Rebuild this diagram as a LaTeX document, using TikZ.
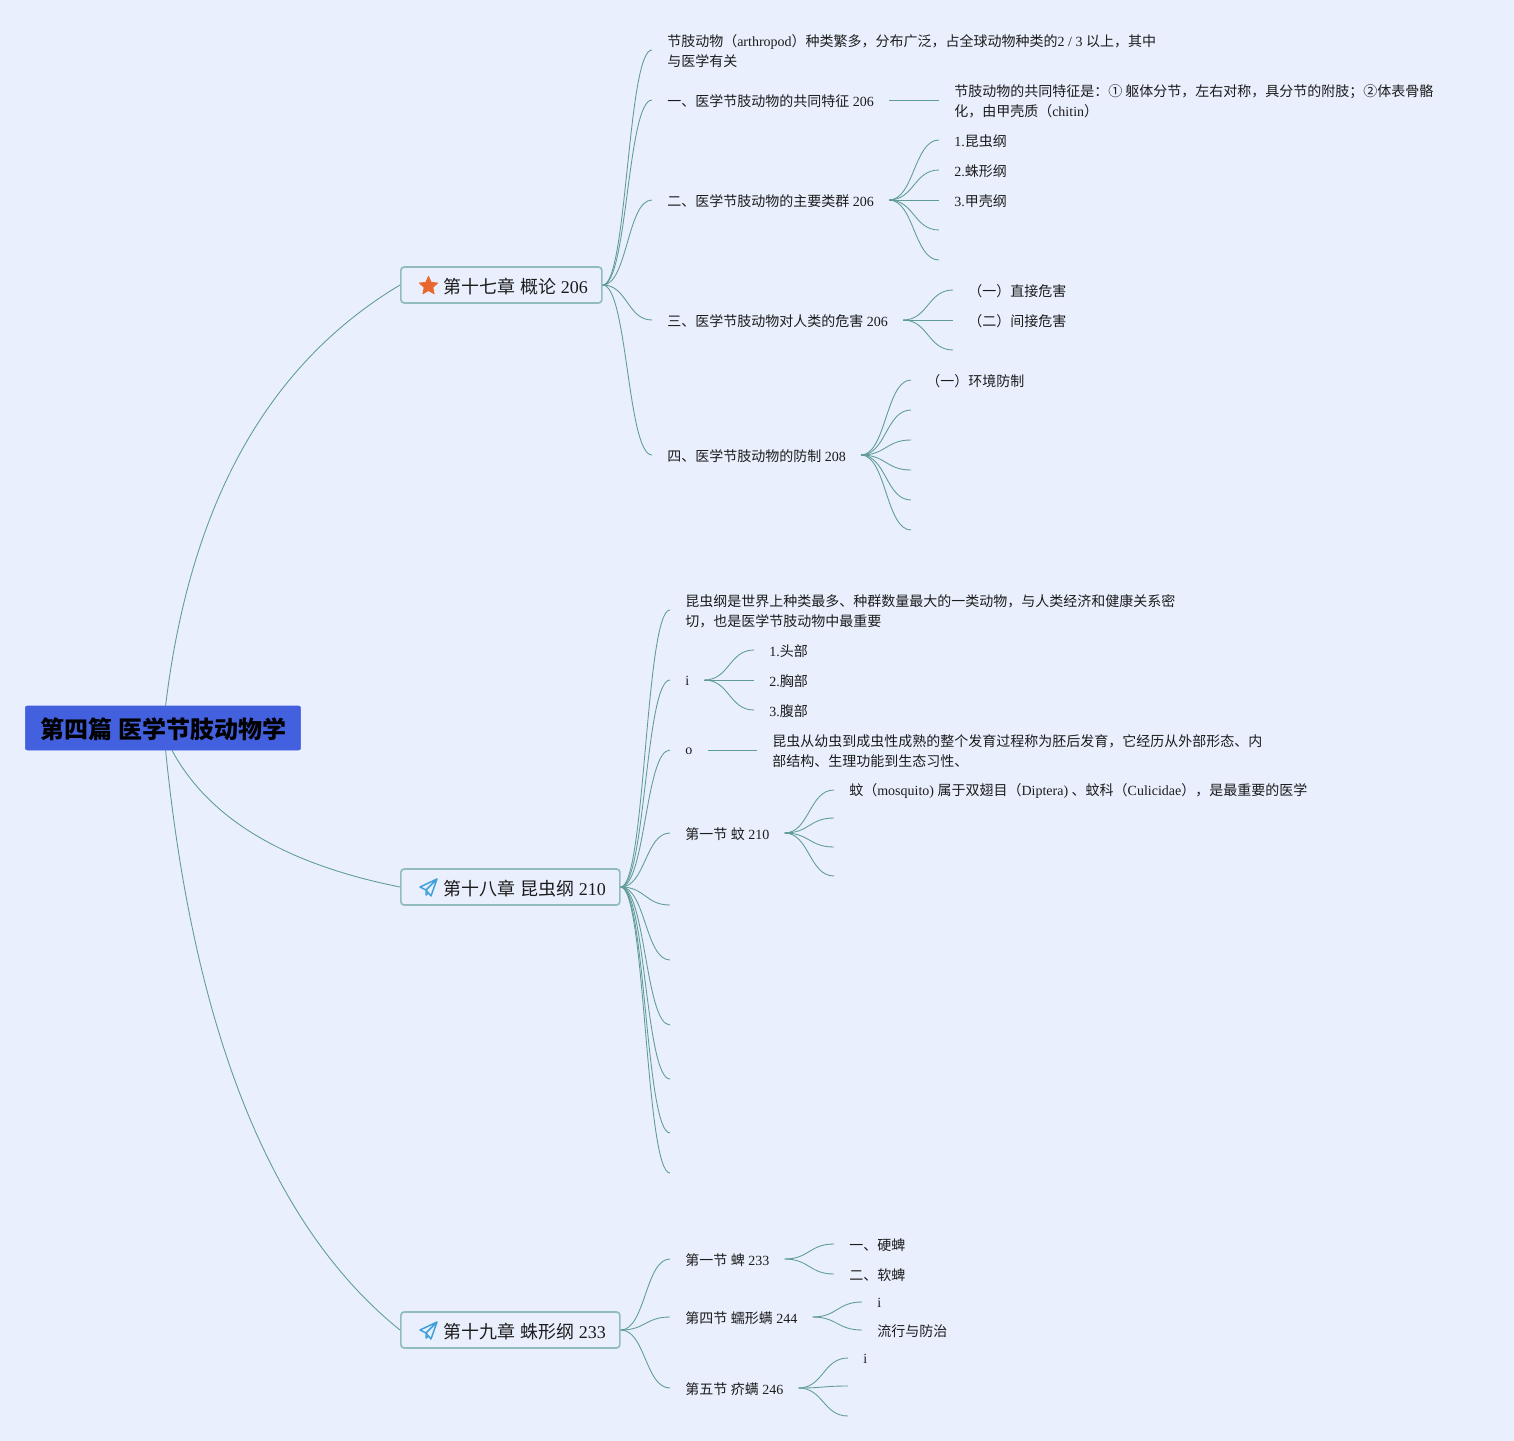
\documentclass[tikz,border=0pt]{standalone}
\usepackage{fontspec}
\setmainfont{Liberation Serif}
\newfontfamily\cjk{Noto Sans CJK SC}
\newcommand{\zh}[1]{{\cjk #1}}
\newcommand{\dn}[1]{\raisebox{-1.1pt}[\height][\depth]{#1}}
\usetikzlibrary{calc,shapes.geometric}
\definecolor{bgc}{HTML}{E9EFFD}
\definecolor{lnc}{HTML}{5F9C96}
\definecolor{rimc}{HTML}{93BDBD}
\definecolor{rootc}{HTML}{4360DF}
\definecolor{starc}{HTML}{E8662F}
\definecolor{planec}{HTML}{3E9FDB}
\definecolor{inkc}{HTML}{1C1C1C}
\begin{document}
\begin{tikzpicture}[x=.75pt,y=-.75pt,
  txt/.style={anchor=west,inner xsep=11.25pt,inner ysep=1pt,align=left,text=inkc,
    font=\fontsize{10.5}{15}\selectfont},
  chap/.style={draw=rimc,line width=1.3pt,fill=bgc,rounded corners=2.5pt,anchor=west,text=inkc,
    inner xsep=11.25pt,minimum height=27pt,font=\fontsize{13.5}{16}\selectfont},
  rootbox/.style={fill=rootc,draw=rootc,rounded corners=1.5pt,anchor=west,inner xsep=11pt,
    minimum height=33pt,font=\fontsize{18}{20}\selectfont\bfseries},
  ln/.style={draw=lnc,line width=.65pt},
  lift/.style={yshift=.75pt},
  sp/.style={ln,
    to path={.. controls ($(\tikztostart)!.5!(\tikztostart-|\tikztotarget)$)
      and ($(\tikztotarget)!.5!(\tikztotarget-|\tikztostart)$) .. (\tikztotarget)}},
  plane/.pic={\draw[planec,line width=1.1pt,line join=round]
    (17,-8) -- (0,0) -- (6,3) -- (11,9) -- cycle (6,3) -- (17,-8) (6,3) -- (6,8) -- (8.5,6);}]
\useasboundingbox (0,0) rectangle (1514,1441);
\fill[bgc] (0,0) rectangle (1514,1441);
% root and chapters
\node[rootbox] (root) at (25,728) {\hspace*{.75pt}\dn{\zh{第四篇} \zh{医学节肢动物学}}\hspace*{-.75pt}};
\node[chap] (ch17) at (400,285) {\hspace*{21pt}\dn{\zh{第十七章} \zh{概论} 206}\hspace*{-.75pt}};
\node[chap] (ch18) at (400,887) {\hspace*{21pt}\dn{\zh{第十八章} \zh{昆虫纲} 210}\hspace*{-.75pt}};
\node[chap] (ch19) at (400,1330) {\hspace*{21pt}\dn{\zh{第十九章} \zh{蛛形纲} 233}\hspace*{-.75pt}};
\node[star,star points=5,star point ratio=2.1,fill=starc,draw=starc,line width=.5pt,line join=round,inner sep=0pt,minimum size=14.5pt] (ic17) at (428.5,286) {};
\pic at (420,887) {plane};
\pic at (420,1330) {plane};
\begin{scope}[yshift=-.75pt]
% chapter 17
\node[txt] (a0) at (652,50) {\zh{节肢动物（}arthropod\zh{）种类繁多，分布广泛，占全球动物种类的}2 / 3 \zh{以上，其中}\\\zh{与医学有关}};
\node[txt] (a1) at (652,100) {\zh{一、医学节肢动物的共同特征} 206};
\node[txt] (a2) at (652,200) {\zh{二、医学节肢动物的主要类群} 206};
\node[txt] (a3) at (652,320) {\zh{三、医学节肢动物对人类的危害} 206};
\node[txt] (a4) at (652,455) {\zh{四、医学节肢动物的防制} 208};
\node[txt] (a1x) at (939,100) {\zh{节肢动物的共同特征是：① 躯体分节，左右对称，具分节的附肢；②体表骨骼}\\\zh{化，由甲壳质（}chitin\zh{）}};
\node[txt] (a2x) at (939,140) {1.\zh{昆虫纲}};
\node[txt] (a2y) at (939,170) {2.\zh{蛛形纲}};
\node[txt] (a2z) at (939,200) {3.\zh{甲壳纲}};
\coordinate (a2u) at (939,230);
\coordinate (a2v) at (939,260);
\node[txt] (a3x) at (953,290) {\zh{（一）直接危害}};
\node[txt] (a3y) at (953,320) {\zh{（二）间接危害}};
\coordinate (a3z) at (953,350);
\node[txt] (a4x) at (911,380) {\zh{（一）环境防制}};
\coordinate (a4y) at (911,410);
\coordinate (a4z) at (911,440);
\coordinate (a4u) at (911,470);
\coordinate (a4v) at (911,500);
\coordinate (a4w) at (911,530);
% chapter 18
\node[txt] (b0) at (670,610) {\zh{昆虫纲是世界上种类最多、种群数量最大的一类动物，与人类经济和健康关系密}\\\zh{切，也是医学节肢动物中最重要}};
\node[txt] (b1) at (670,680) {i};
\node[txt] (b2) at (670,750) {o};
\node[txt] (b3) at (670,833) {\zh{第一节} \zh{蚊} 210};
\coordinate (b4) at (670,905);
\coordinate (b5) at (670,960);
\coordinate (b6) at (670,1025);
\coordinate (b7) at (670,1079);
\coordinate (b8) at (670,1133);
\coordinate (b9) at (670,1173);
\node[txt] (b1x) at (754,650) {1.\zh{头部}};
\node[txt] (b1y) at (754,680) {2.\zh{胸部}};
\node[txt] (b1z) at (754,710) {3.\zh{腹部}};
\node[txt] (b2x) at (757,750) {\zh{昆虫从幼虫到成虫性成熟的整个发育过程称为胚后发育，它经历从外部形态、内}\\\zh{部结构、生理功能到生态习性、}};
\node[txt] (b3x) at (834,790) {\zh{蚊（}mosquito) \zh{属于双翅目（}Diptera) \zh{、蚊科（}Culicidae\zh{），是最重要的医学}};
\coordinate (b3y) at (834,818);
\coordinate (b3z) at (834,847);
\coordinate (b3u) at (834,876);
% chapter 19
\node[txt] (c1) at (670,1259) {\zh{第一节} \zh{蜱} 233};
\node[txt] (c2) at (670,1317) {\zh{第四节} \zh{蠕形螨} 244};
\node[txt] (c3) at (670,1388) {\zh{第五节} \zh{疥螨} 246};
\node[txt] (c1x) at (834,1244) {\zh{一、硬蜱}};
\node[txt] (c1y) at (834,1274) {\zh{二、软蜱}};
\node[txt] (c2x) at (862,1302) {i};
\node[txt] (c2y) at (862,1330) {\zh{流行与防治}};
\node[txt] (c3x) at (848,1358) {i};
\coordinate (c3y) at (848,1386);
\coordinate (c3z) at (848,1416);
\end{scope}
% connectors
\draw[ln] ([xshift=2pt]root.north) .. controls (190,503) and (268,364) .. (ch17.west);
\draw[ln] ([xshift=6.75pt]root.south) .. controls (209,819) and (285,864) .. (ch18.west);
\draw[ln] ([xshift=2pt]root.south) .. controls (194,1034) and (272,1227) .. (ch19.west);
\foreach \kid in {a0.west,a1.west,a2.west,a3.west,a4.west} \draw[sp] (ch17.east) to ([lift]\kid);
\draw[sp] ([lift]a1.east) to ([lift]a1x.west);
\foreach \kid in {a2x.west,a2y.west,a2z.west,a2u,a2v} \draw[sp] ([lift]a2.east) to ([lift]\kid);
\foreach \kid in {a3x.west,a3y.west,a3z} \draw[sp] ([lift]a3.east) to ([lift]\kid);
\foreach \kid in {a4x.west,a4y,a4z,a4u,a4v,a4w} \draw[sp] ([lift]a4.east) to ([lift]\kid);
\foreach \kid in {b0.west,b1.west,b2.west,b3.west,b4,b5,b6,b7,b8,b9} \draw[sp] (ch18.east) to ([lift]\kid);
\foreach \kid in {b1x.west,b1y.west,b1z.west} \draw[sp] ([lift]b1.east) to ([lift]\kid);
\draw[sp] ([lift]b2.east) to ([lift]b2x.west);
\foreach \kid in {b3x.west,b3y,b3z,b3u} \draw[sp] ([lift]b3.east) to ([lift]\kid);
\foreach \kid in {c1.west,c2.west,c3.west} \draw[sp] (ch19.east) to ([lift]\kid);
\foreach \kid in {c1x.west,c1y.west} \draw[sp] ([lift]c1.east) to ([lift]\kid);
\foreach \kid in {c2x.west,c2y.west} \draw[sp] ([lift]c2.east) to ([lift]\kid);
\foreach \kid in {c3x.west,c3y,c3z} \draw[sp] ([lift]c3.east) to ([lift]\kid);
\end{tikzpicture}
\end{document}
